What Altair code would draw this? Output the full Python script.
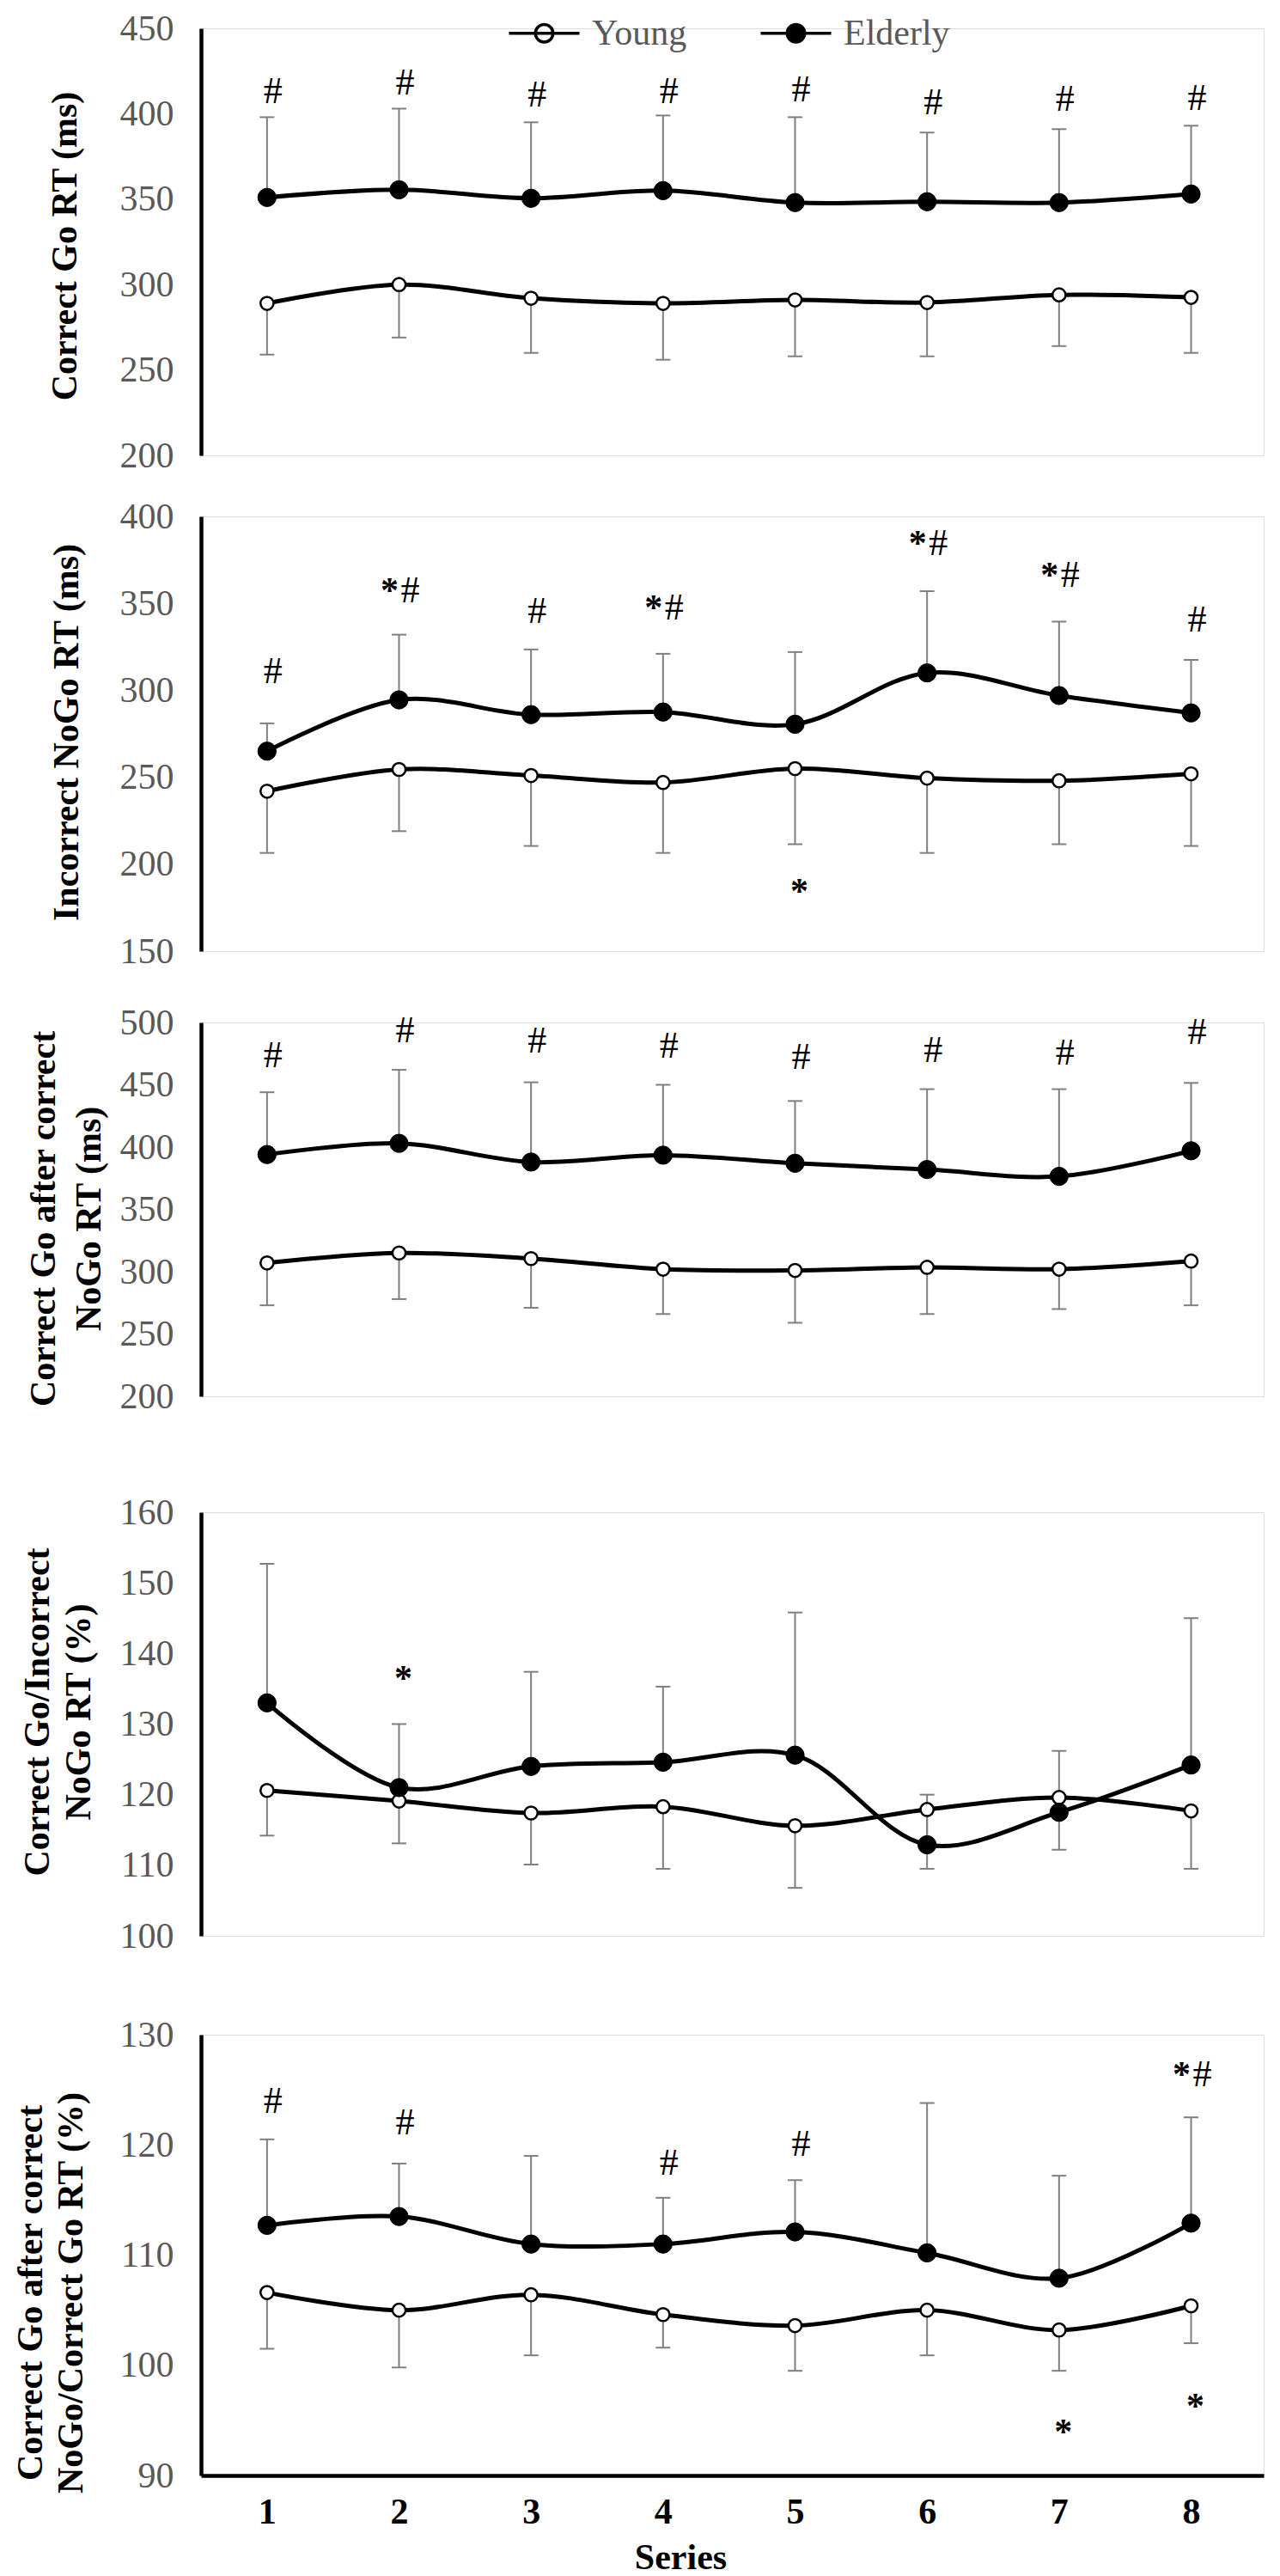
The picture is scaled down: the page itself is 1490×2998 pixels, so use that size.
import altair as alt
import pandas as pd

SERIF = "Liberation Serif"
SERIES = [1, 2, 3, 4, 5, 6, 7, 8]
GROUPS = ["Young", "Elderly"]

# ---- Panel 1: Correct Go RT (ms)
p1_young = [289, 300, 292, 289, 291, 289.5, 294, 292.5]
p1_young_err = [259, 269, 260, 256, 258, 258, 264, 260]
p1_elderly = [351, 355.5, 350.5, 355, 348, 348.5, 348, 353]
p1_elderly_err = [398, 403, 395, 399, 398, 389, 391, 393]
p1_note_x = [1, 2, 3, 4, 5, 6, 7, 8]
p1_note_y = [413, 418, 411, 413, 414, 406, 408, 409]
p1_note_txt = ["#", "#", "#", "#", "#", "#", "#", "#"]

# ---- Panel 2: Incorrect NoGo RT (ms)
p2_young = [242, 254.5, 251, 247, 255, 249.5, 248, 252]
p2_young_err = [206.5, 219, 210.5, 206.5, 211.5, 206.5, 211.5, 210.5]
p2_elderly = [265, 294.5, 286, 287.5, 280.5, 310, 297, 287]
p2_elderly_err = [281, 332, 323.5, 321, 322, 357, 339.5, 317.5]
p2_note_x = [1, 2, 3, 4, 6, 7, 8, 5]
p2_note_y = [310.5, 357, 345, 347, 384, 366, 340, 188]
p2_note_txt = ["#", "*#", "#", "*#", "*#", "*#", "#", "*"]

# ---- Panel 3: Correct Go after correct NoGo RT (ms)
p3_young = [307, 315, 310.5, 302, 301, 303.5, 302, 308.5]
p3_young_err = [273, 278, 271, 266, 259, 266, 270, 273]
p3_elderly = [394, 403, 388, 393.5, 387, 382, 376.5, 397]
p3_elderly_err = [444, 462, 452, 450, 437, 446.5, 446.5, 451.5]
p3_note_x = [1, 2, 3, 4, 5, 6, 7, 8]
p3_note_y = [473, 493, 485, 481, 472, 477, 475, 492]
p3_note_txt = ["#", "#", "#", "#", "#", "#", "#", "#"]

# ---- Panel 4: Correct Go/Incorrect NoGo RT (%)
p4_young = [120.6, 119.1, 117.4, 118.3, 115.6, 117.9, 119.6, 117.7]
p4_young_err = [114.2, 113.1, 110.1, 109.5, 106.8, 109.5, 112.2, 109.5]
p4_elderly = [133, 121, 124, 124.6, 125.6, 112.9, 117.5, 124.2]
p4_elderly_err = [152.7, 130, 137.4, 135.3, 145.8, 120, 126.2, 145]
p4_note_x = [2]
p4_note_y = [137.4]
p4_note_txt = ["*"]

# ---- Panel 5: Correct Go after correct NoGo/Correct Go RT (%)
p5_young = [106.6, 105.0, 106.4, 104.6, 103.6, 105.0, 103.2, 105.4]
p5_young_err = [101.5, 99.8, 100.9, 101.6, 99.5, 100.9, 99.5, 102.0]
p5_elderly = [112.7, 113.5, 111.0, 111.0, 112.1, 110.2, 107.9, 112.9]
p5_elderly_err = [120.5, 118.3, 119.0, 115.2, 116.8, 123.8, 117.2, 122.5]
p5_note_x = [1, 2, 4, 5, 8, 7, 8]
p5_note_y = [123.9, 122.0, 118.3, 120.0, 126.3, 94.5, 96.9]
p5_note_txt = ["#", "#", "#", "#", "*#", "*", "*"]

X_DOMAIN = [0.5, 8.55]
PLOT_W = 1237

legend_path = "M-2,0L2,0M0,-0.5A0.5,0.5,0,1,1,0,0.5A0.5,0.5,0,1,1,0,-0.5Z"


def panel(young, young_err, elderly, elderly_err, nx, ny, ntxt, domain, step,
          height, title, tx, ty, lh, last=False, legend=False):
    df = pd.DataFrame({
        "series": SERIES * 2,
        "group": ["Young"] * 8 + ["Elderly"] * 8,
        "value": young + elderly,
        "err": young_err + elderly_err,
    })
    notes = pd.DataFrame({"series": nx, "y": ny, "txt": ntxt})

    xscale = alt.Scale(domain=X_DOMAIN, nice=False, zero=False)
    yscale = alt.Scale(domain=domain, nice=False, zero=False)
    if last:
        xaxis = alt.Axis(values=SERIES, format="d", labelFont=SERIF, labelFontSize=42,
                         labelFontWeight="bold", labelColor="black", ticks=False,
                         tickSize=0, labelPadding=22, domainColor="black",
                         domainWidth=4.5, grid=False, title="Series", titleFont=SERIF,
                         titleFontSize=42, titleFontWeight="bold", titleColor="black",
                         titlePadding=12, titleX=558)
    else:
        xaxis = None
    ticks = list(range(domain[0], domain[1] + 1, step))
    yaxis = alt.Axis(values=ticks, format="d", title=title, titleFont=SERIF,
                     titleFontSize=42, titleFontWeight="bold", titleColor="black",
                     titleAngle=270, titleAlign="center", titleBaseline="middle",
                     titleX=tx, titleY=ty, titleLineHeight=lh,
                     labelFont=SERIF, labelFontSize=42, labelColor="#595959",
                     labelPadding=32, ticks=False, tickSize=0, domainColor="black",
                     domainWidth=4.5, grid=False, labelOverlap=False)

    X = alt.X("series:Q", scale=xscale, axis=xaxis)
    Y = alt.Y("value:Q", scale=yscale, axis=yaxis)
    YE = alt.Y("err:Q", scale=yscale, axis=yaxis)
    YN = alt.Y("y:Q", scale=yscale, axis=yaxis)

    leg = None
    if legend:
        leg = alt.Legend(orient="none", legendX=357, legendY=-17, direction="horizontal",
                         title=None, symbolType=legend_path, symbolSize=1681,
                         symbolStrokeColor="black", symbolStrokeWidth=3.5,
                         symbolOffset=20, labelOffset=33, labelFont=SERIF,
                         labelFontSize=42, labelColor="#595959", columnPadding=78)
    fill = alt.Fill("group:N", scale=alt.Scale(domain=GROUPS, range=["white", "black"]),
                    legend=leg)

    base = alt.Chart(df)
    rules = base.mark_rule(color="#7f7f7f", strokeWidth=2).encode(
        x=X, y=Y, y2=alt.Y2("err:Q"))
    caps = base.mark_point(shape="stroke", size=289, color="#7f7f7f", strokeWidth=2,
                           opacity=1).encode(x=X, y=YE)
    lines = base.mark_line(interpolate="catmull-rom", strokeWidth=5, color="black").encode(
        x=X, y=Y, detail="group:N")
    young_pts = base.transform_filter(alt.datum.group == "Young").mark_point(
        filled=True, shape="circle", size=230, stroke="black", strokeWidth=2.5,
        opacity=1).encode(x=X, y=Y, fill=fill)
    eld_pts = base.transform_filter(alt.datum.group == "Elderly").mark_point(
        filled=True, shape="circle", size=452, stroke="black", strokeWidth=1,
        opacity=1).encode(x=X, y=Y, fill=fill)

    nbase = alt.Chart(notes)
    hash_single = nbase.transform_filter(alt.datum.txt == "#").mark_text(
        text="#", font=SERIF, fontSize=44, dx=7, baseline="middle", color="black"
    ).encode(x=X, y=YN)
    hash_combo = nbase.transform_filter(alt.datum.txt == "*#").mark_text(
        text="#", font=SERIF, fontSize=44, dx=13, baseline="middle", color="black"
    ).encode(x=X, y=YN)
    star_combo = nbase.transform_filter(alt.datum.txt == "*#").mark_text(
        text="*", font=SERIF, fontSize=42, fontWeight="bold", dx=-11,
        baseline="middle", color="black").encode(x=X, y=YN)
    star_single = nbase.transform_filter(alt.datum.txt == "*").mark_text(
        text="*", font=SERIF, fontSize=42, fontWeight="bold", dx=5, dy=8,
        baseline="middle", color="black").encode(x=X, y=YN)

    return alt.layer(rules, caps, lines, young_pts, eld_pts, hash_single, hash_combo,
                     star_combo, star_single).properties(width=PLOT_W, height=height)


c1 = panel(p1_young, p1_young_err, p1_elderly, p1_elderly_err, p1_note_x, p1_note_y,
           p1_note_txt, [200, 450], 50, 497, ["Correct Go RT (ms)"], -159, 253, 50,
           legend=True)
c2 = panel(p2_young, p2_young_err, p2_elderly, p2_elderly_err, p2_note_x, p2_note_y,
           p2_note_txt, [150, 400], 50, 506, ["Incorrect NoGo RT (ms)"], -157, 251, 50)
c3 = panel(p3_young, p3_young_err, p3_elderly, p3_elderly_err, p3_note_x, p3_note_y,
           p3_note_txt, [200, 500], 50, 435, ["Correct Go after correct", "NoGo RT (ms)"],
           -184, 228, 53)
c4 = panel(p4_young, p4_young_err, p4_elderly, p4_elderly_err, p4_note_x, p4_note_y,
           p4_note_txt, [100, 160], 10, 493, ["Correct Go/Incorrect", "NoGo RT (%)"],
           -191, 232, 48)
c5 = panel(p5_young, p5_young_err, p5_elderly, p5_elderly_err, p5_note_x, p5_note_y,
           p5_note_txt, [90, 130], 10, 513,
           ["Correct Go after correct", "NoGo/Correct Go RT (%)"], -199, 300, 47,
           last=True)

g12 = alt.vconcat(c1, c2, spacing=27).resolve_scale(fill="independent")
g123 = alt.vconcat(g12, c3, spacing=39).resolve_scale(fill="independent")
g1234 = alt.vconcat(g123, c4, spacing=91).resolve_scale(fill="independent")
chart = alt.vconcat(g1234, c5, spacing=71).resolve_scale(fill="independent").properties(
    padding={"left": 5, "top": 3, "right": 0, "bottom": 0}
).configure_view(strokeWidth=0).configure(font=SERIF)

chart.save("out.html", embed_options={"renderer": "svg", "actions": False})
